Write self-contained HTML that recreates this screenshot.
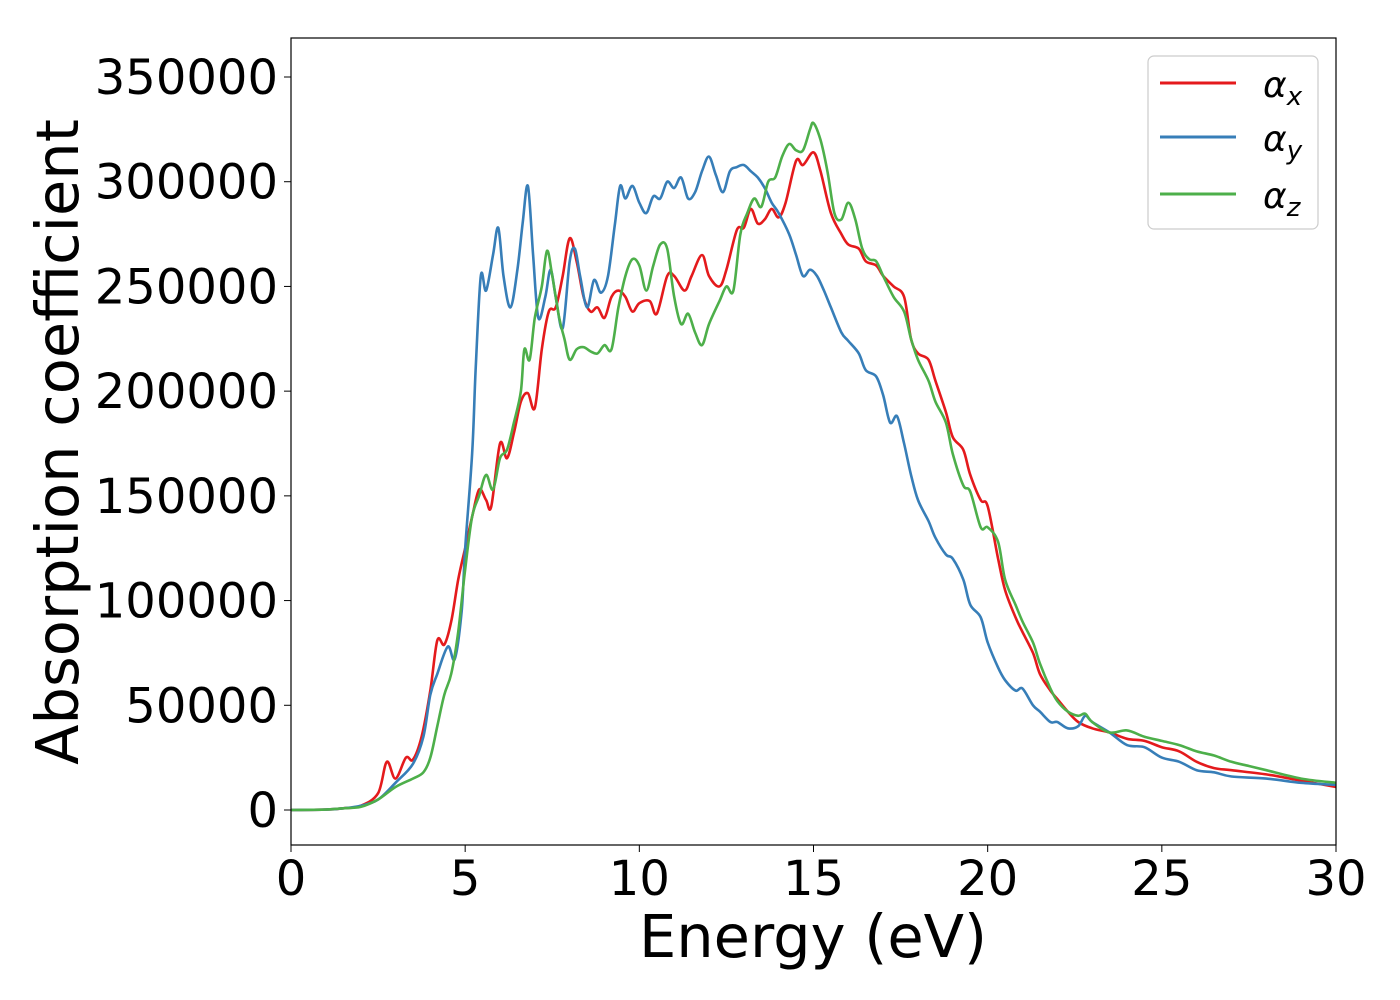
<!DOCTYPE html>
<html><head><meta charset="utf-8"><style>
html,body{margin:0;padding:0;background:#fff;}
svg{display:block;font-family:"DejaVu Sans","Liberation Sans",sans-serif;}
</style></head><body>
<svg id="chart" width="1400" height="1000" viewBox="0 0 1400 1000">
<g id="ticks"></g>
<g id="series" clip-path="url(#clip)"></g>
<defs><clipPath id="clip"><rect x="291" y="38" width="1045" height="807"/></clipPath></defs>
<rect x="291" y="38" width="1045" height="807" fill="none" stroke="#000" stroke-width="1.2"/>
<text x="813" y="957" font-size="59" text-anchor="middle">Energy (eV)</text>
<text transform="translate(78,442) rotate(-90)" font-size="59" text-anchor="middle">Absorption coefficient</text>
<g>
<rect x="1148" y="56" width="170" height="173" rx="6" fill="#fff" stroke="#ccc" stroke-width="1.2"/>
<g><line x1="1160" y1="83" x2="1236" y2="83" stroke="#e41a1c" stroke-width="3"/><text x="1263" y="97" font-size="36" font-style="italic">α<tspan font-size="26" dy="8">x</tspan></text></g>
<g><line x1="1160" y1="137" x2="1236" y2="137" stroke="#377eb8" stroke-width="3"/><text x="1263" y="151" font-size="36" font-style="italic">α<tspan font-size="26" dy="8">y</tspan></text></g>
<g><line x1="1160" y1="194" x2="1236" y2="194" stroke="#4daf4a" stroke-width="3"/><text x="1263" y="208" font-size="36" font-style="italic">α<tspan font-size="26" dy="8">z</tspan></text></g>
</g>
</svg>
<script>
const xTicks=[0,5,10,15,20,25,30];
const yTicks=[0,50000,100000,150000,200000,250000,300000,350000];
const xE=[0,1,1.5,2,2.5,2.75,3.0,3.3,3.5,3.75,4.0,4.2,4.4,4.6,4.8,5.0,5.2,5.4,5.6,5.75,6.0,6.2,6.4,6.6,6.8,7.0,7.2,7.4,7.6,7.8,8.0,8.2,8.4,8.6,8.8,9.0,9.2,9.4,9.6,9.8,10.0,10.3,10.5,10.8,11.0,11.3,11.5,11.8,12.0,12.3,12.5,12.8,13.0,13.2,13.4,13.6,13.8,14.0,14.2,14.5,14.7,15.0,15.2,15.5,15.8,16.0,16.3,16.5,16.8,17.0,17.3,17.6,17.8,18.0,18.3,18.5,18.8,19.0,19.3,19.5,19.8,20.0,20.3,20.5,20.8,21.0,21.3,21.5,21.8,22.0,22.3,22.6,23.0,23.5,24,24.5,25,25.5,26,26.5,27,28,29,30];
const xV=[0,200,800,2000,8000,23000,15000,25000,24000,35000,57000,81000,79000,90000,110000,125000,140000,153000,148000,145000,175000,168000,180000,195000,199000,192000,220000,238000,240000,255000,273000,262000,245000,238000,240000,235000,245000,248000,245000,238000,242000,243000,237000,255000,255000,248000,255000,265000,255000,250000,258000,277000,278000,287000,280000,282000,287000,283000,290000,310000,308000,314000,305000,285000,275000,270000,268000,262000,260000,255000,250000,245000,225000,218000,215000,205000,190000,178000,172000,160000,148000,145000,120000,105000,92000,85000,75000,65000,57000,53000,47000,42000,39000,37000,34000,33000,30000,28000,23000,20000,19000,17000,14000,11000];
const yE=[0,1,1.5,2,2.5,3.0,3.5,3.8,4.0,4.2,4.5,4.7,4.9,5.0,5.2,5.3,5.45,5.6,5.8,5.95,6.1,6.3,6.5,6.65,6.8,6.95,7.1,7.3,7.45,7.6,7.8,8.0,8.15,8.3,8.5,8.7,8.9,9.1,9.3,9.45,9.6,9.8,10.0,10.2,10.4,10.6,10.8,11.0,11.2,11.4,11.6,11.8,12.0,12.2,12.4,12.6,12.8,13.0,13.2,13.4,13.6,13.8,14.0,14.3,14.5,14.7,14.9,15.1,15.3,15.5,15.8,16.0,16.3,16.5,16.8,17.0,17.2,17.4,17.6,17.8,18.0,18.3,18.5,18.8,19.0,19.3,19.5,19.8,20.0,20.3,20.5,20.8,21.0,21.3,21.5,21.8,22.0,22.3,22.6,22.8,23.0,23.5,24,24.5,25,25.5,26,26.5,27,28,29,30];
const yV=[0,200,800,2000,5000,13000,22000,35000,55000,65000,78000,72000,95000,125000,170000,210000,255000,248000,265000,278000,255000,240000,258000,280000,298000,265000,235000,245000,258000,245000,230000,262000,268000,255000,240000,253000,247000,255000,280000,298000,292000,298000,290000,285000,293000,292000,300000,297000,302000,292000,295000,305000,312000,303000,295000,305000,307000,308000,305000,302000,297000,290000,285000,275000,265000,255000,258000,255000,248000,240000,228000,224000,218000,210000,207000,198000,185000,188000,175000,160000,148000,138000,130000,122000,120000,110000,98000,92000,80000,68000,62000,57000,58000,50000,47000,42000,42000,39000,40000,45000,42000,37000,31000,30000,25000,23000,19000,18000,16000,15000,13000,12000];
const zE=[0,1,1.5,2,2.5,3.0,3.5,3.8,4.0,4.2,4.4,4.6,4.8,5.0,5.2,5.4,5.6,5.8,6.0,6.2,6.4,6.6,6.7,6.85,7.0,7.2,7.35,7.5,7.7,7.85,8.0,8.2,8.4,8.6,8.8,9.0,9.2,9.4,9.6,9.8,10.0,10.2,10.4,10.6,10.8,11.0,11.2,11.4,11.6,11.8,12.0,12.3,12.5,12.7,12.9,13.1,13.3,13.5,13.7,13.9,14.1,14.3,14.5,14.7,14.9,15.0,15.2,15.4,15.6,15.8,16.0,16.2,16.4,16.6,16.8,17.0,17.3,17.6,17.8,18.0,18.3,18.5,18.8,19.0,19.3,19.5,19.8,20.0,20.3,20.5,20.8,21.0,21.3,21.5,21.8,22.0,22.3,22.6,22.8,23.0,23.5,24,24.5,25,25.5,26,26.5,27,27.5,28,29,30];
const zV=[0,200,800,1500,5000,11000,15000,18000,25000,40000,55000,65000,85000,115000,140000,150000,160000,153000,168000,172000,185000,200000,220000,215000,235000,250000,267000,255000,235000,225000,215000,220000,221000,219000,218000,222000,220000,240000,255000,263000,260000,248000,260000,270000,268000,245000,232000,237000,228000,222000,232000,243000,250000,248000,275000,285000,292000,288000,300000,302000,312000,318000,315000,315000,325000,328000,320000,305000,285000,282000,290000,282000,268000,263000,262000,255000,245000,238000,225000,215000,205000,195000,185000,170000,155000,152000,135000,135000,128000,110000,98000,90000,80000,70000,58000,52000,47000,45000,46000,42000,37000,38000,35000,33000,31000,28000,26000,23000,21000,19000,15000,13000];

const NS="http://www.w3.org/2000/svg";
const X0=291,X1=1336,Y0=810,PPU=733/350000;
function sx(e){return X0+(X1-X0)*e/30;}
function sy(v){return Y0-v*PPU;}
const tg=document.getElementById('ticks');
xTicks.forEach(t=>{
  const l=document.createElementNS(NS,'line');
  l.setAttribute('x1',sx(t));l.setAttribute('x2',sx(t));l.setAttribute('y1',845);l.setAttribute('y2',852);l.setAttribute('stroke','#000');
  
  
  tg.appendChild(l);
  const tx=document.createElementNS(NS,'text');
  tx.setAttribute('x',sx(t));tx.setAttribute('y',895);tx.setAttribute('font-size','48');tx.setAttribute('text-anchor','middle');
  tx.textContent=t;
  
  
  tg.appendChild(tx);
});
yTicks.forEach(t=>{
  const l=document.createElementNS(NS,'line');
  l.setAttribute('x1',284);l.setAttribute('x2',291);l.setAttribute('y1',sy(t));l.setAttribute('y2',sy(t));l.setAttribute('stroke','#000');
  
  
  tg.appendChild(l);
  const tx=document.createElementNS(NS,'text');
  tx.setAttribute('x',278);tx.setAttribute('y',sy(t)+17);tx.setAttribute('font-size','48');tx.setAttribute('text-anchor','end');
  tx.textContent=t;
  
  
  tg.appendChild(tx);
});
function pathD(E,V){
  const p=E.map((e,i)=>[sx(e),sy(V[i])]);
  let d='M'+p[0][0].toFixed(1)+','+p[0][1].toFixed(1);
  for(let i=0;i<p.length-1;i++){
    const a=p[i-1]||p[i],b=p[i],c=p[i+1],n=p[i+2]||c;
    const c1=[b[0]+(c[0]-a[0])/6,b[1]+(c[1]-a[1])/6],c2=[c[0]-(n[0]-b[0])/6,c[1]-(n[1]-b[1])/6];
    d+='C'+c1[0].toFixed(1)+','+c1[1].toFixed(1)+' '+c2[0].toFixed(1)+','+c2[1].toFixed(1)+' '+c[0].toFixed(1)+','+c[1].toFixed(1);
  }
  return d;
}
const sg=document.getElementById('series');
[[xE,xV,'#e41a1c','series-alpha-x'],[yE,yV,'#377eb8','series-alpha-y'],[zE,zV,'#4daf4a','series-alpha-z']].forEach(s=>{
  const p=document.createElementNS(NS,'path');
  p.setAttribute('d',pathD(s[0],s[1]));p.setAttribute('fill','none');p.setAttribute('stroke',s[2]);p.setAttribute('stroke-width','2.6');
  
  
  sg.appendChild(p);
});
</script>
</body></html>
